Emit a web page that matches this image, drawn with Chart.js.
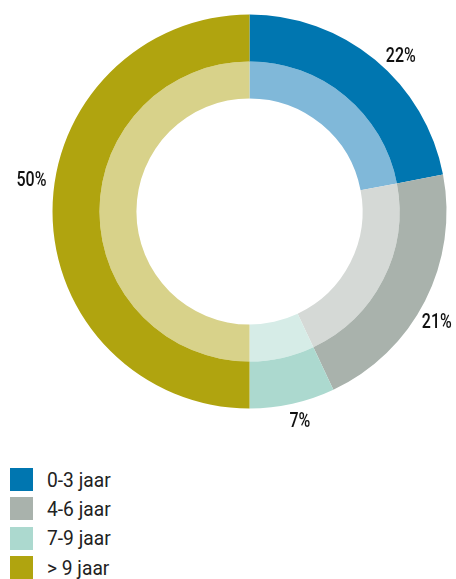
<!DOCTYPE html>
<html><head><meta charset="utf-8">
<script src="https://cdn.jsdelivr.net/npm/chart.js@4/dist/chart.umd.min.js"></script>
<style>
html,body{margin:0;padding:0;background:#fff;width:456px;height:579px;overflow:hidden;}
#wrap{position:absolute;left:0;top:0;width:456px;height:430px;}
#legend{position:absolute;left:0;top:0;font-family:Roboto,sans-serif;font-size:20px;color:#222;}
.item{position:absolute;left:10px;height:23px;display:flex;align-items:center;white-space:nowrap;}
.sw{width:23px;height:23px;margin-right:14px;flex:none;}
.tx{display:inline-block;transform:scaleX(0.96);transform-origin:left center;}
</style></head><body>
<div id="wrap"><canvas id="c" width="456" height="430"></canvas></div>
<div id="legend"></div>
<script>
const categories = ["0-3 jaar", "4-6 jaar", "7-9 jaar", "> 9 jaar"];
const values = [22, 21, 7, 50];
const valueLabels = ["22%", "21%", "7%", "50%"];
const outerColors = ["#0076b0", "#a9b2ac", "#acd9cf", "#b0a40f"];
const innerColors = ["#80b8d9", "#d5d9d6", "#d6ece7", "#d8d28a"];

const labelPlugin = {
  id: 'valueLabels',
  afterDatasetsDraw(chart) {
    const ctx = chart.ctx;
    const meta = chart.getDatasetMeta(0);
    const nudge = [[13, 12], [-6, 12], [3, -2], [-1, -32]];
    ctx.save();
    ctx.font = '500 20px Roboto, sans-serif';
    ctx.fillStyle = '#111';
    ctx.textAlign = 'center';
    ctx.textBaseline = 'middle';
    meta.data.forEach((arc, i) => {
      const p = arc.getProps(['x','y','startAngle','endAngle','outerRadius'], true);
      const mid = (p.startAngle + p.endAngle) / 2;
      const r = p.outerRadius + 20;
      const x = p.x + Math.cos(mid) * r + nudge[i][0];
      const y = p.y + Math.sin(mid) * r + nudge[i][1];
      ctx.save();
      ctx.translate(x, y);
      ctx.scale(0.8, 1);
      ctx.fillText(valueLabels[i], 0, 1);
      ctx.restore();
    });
    ctx.restore();
  }
};

new Chart(document.getElementById('c'), {
  type: 'doughnut',
  data: {
    labels: categories,
    datasets: [
      { data: values, backgroundColor: outerColors, borderWidth: 0, weight: 47 },
      { data: values, backgroundColor: innerColors, borderWidth: 0, weight: 37 }
    ]
  },
  options: {
    responsive: false,
    animation: false,
    radius: 197,
    cutout: '57.4%',
    layout: { padding: { left: 43, top: 0, bottom: 7, right: 0 } },
    plugins: { legend: { display: false }, tooltip: { enabled: false } }
  },
  plugins: [labelPlugin]
});

const lg = document.getElementById('legend');
categories.forEach((c, i) => {
  const d = document.createElement('div');
  d.className = 'item';
  d.style.top = (468 + i * 29.4) + 'px';
  d.innerHTML = '<div class="sw" style="background:' + outerColors[i] + '"></div><span class="tx">' + c + '</span>';
  lg.appendChild(d);
});
</script>
</body></html>
